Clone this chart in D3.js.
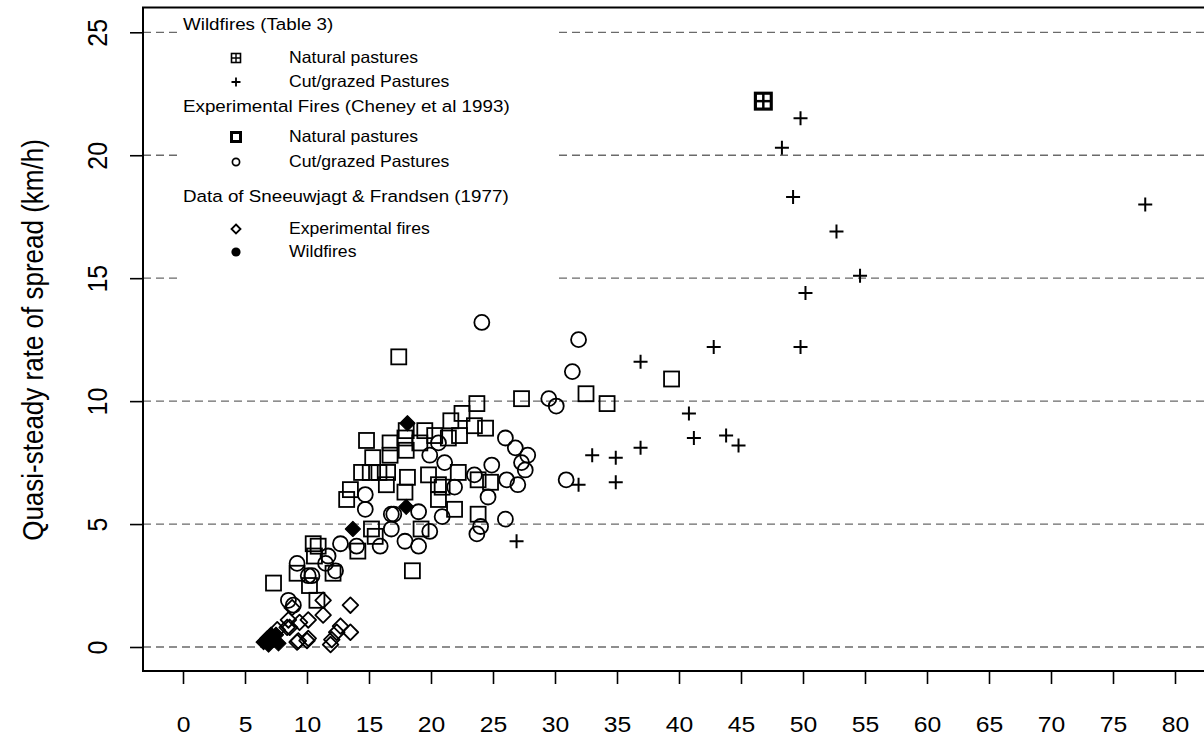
<!DOCTYPE html>
<html><head><meta charset="utf-8">
<script src="https://cdn.jsdelivr.net/npm/d3@7"></script>
<style>
html,body{margin:0;padding:0;background:#fff;}
svg{display:block;font-family:"Liberation Sans",Arial,Helvetica,sans-serif;}
</style></head>
<body>
<svg id="chart" width="1204" height="738"></svg>
<script>
// ---------- data ----------
const xTicks = [0,5,10,15,20,25,30,35,40,45,50,55,60,65,70,75,80];
const yTicks = [0,5,10,15,20,25];
const yTitle = "Quasi-steady rate of spread (km/h)";

// Wildfires (Table 3) – natural pastures
const wildfireNatural = [[46.8,22.2]];
// Wildfires (Table 3) – cut/grazed pastures
const wildfireCut = [[49.8,21.5],[48.3,20.3],[49.2,18.3],[52.7,16.9],[54.6,15.1],[50.2,14.4],
  [42.8,12.2],[49.8,12.2],[36.9,11.6],[40.8,9.5],[41.2,8.5],[43.8,8.6],[44.8,8.2],[36.9,8.1],
  [33.0,7.8],[34.9,7.7],[77.6,18.0],[26.9,4.3],[31.9,6.6],[34.9,6.7]];
// Experimental fires (Cheney et al 1993) – natural pastures
const expNatural = [[17.4,11.8],[39.4,10.9],[32.5,10.3],[34.2,9.9],[27.3,10.1],[7.3,2.6],[18.5,3.1],
  [23.7,9.9],[22.5,9.5],[21.6,9.2],[23.5,9.0],[24.4,8.9],[22.3,8.6],[19.5,8.8],[21.4,8.5],[17.9,8.5],
  [16.7,8.3],[19.1,8.3],[16.7,7.8],[16.5,7.1],[18.1,6.9],[19.8,7.0],[22.2,7.1],[20.9,6.5],[16.4,6.6],
  [23.8,6.8],[24.8,6.7],[20.6,6.0],[21.9,5.6],[23.8,5.4],[19.2,4.8],[17.9,6.3],[14.8,8.4],[18.0,8.8],
  [20.3,8.6],[18.0,8.0],[15.3,7.7],[14.4,7.1],[15.8,7.1],[15.1,7.1],[13.5,6.4],[13.2,6.0],[20.6,6.6],
  [15.2,4.8],[15.5,4.5],[14.1,3.9],[10.5,4.2],[10.9,4.1],[10.6,3.7],[12.1,3.0],[9.2,3.0],[10.2,2.5],
  [10.8,1.9]];
// Experimental fires (Cheney et al 1993) – cut/grazed pastures
const expCut = [[24.1,13.2],[31.9,12.5],[31.4,11.2],[29.5,10.1],[30.1,9.8],[30.9,6.8],
  [26.0,8.5],[26.8,8.1],[27.8,7.8],[27.3,7.5],[27.6,7.2],[27.0,6.6],[26.1,6.8],[24.9,7.4],[23.5,7.0],
  [24.6,6.1],[21.9,6.5],[20.6,8.3],[19.9,7.8],[21.1,7.5],[20.9,5.3],[19.0,5.5],[26.0,5.2],[24.0,4.9],
  [23.7,4.6],[19.9,4.7],[17.0,5.4],[14.7,6.2],[14.7,5.6],[16.8,5.4],[16.8,4.8],[15.9,4.1],[14.0,4.1],
  [12.7,4.2],[11.7,3.7],[11.5,3.4],[12.3,3.1],[9.2,3.4],[10.4,2.9],[8.5,1.9],[8.9,1.7],[19.0,4.1],
  [17.9,4.3],[10.1,2.9]];
// Sneeuwjagt & Frandsen (1977) – experimental fires
const sfExperimental = [[11.3,1.9],[13.5,1.7],[11.3,1.3],[10.1,1.1],[9.4,1.0],[8.5,1.1],[8.6,0.8],
  [12.7,0.85],[12.4,0.6],[13.5,0.6],[12.0,0.3],[11.9,0.1],[9.3,0.25],[10.1,0.35],[7.6,0.7],[9.2,0.2],
  [10.0,0.26],[8.4,0.8],[8.8,1.6]];
// Sneeuwjagt & Frandsen (1977) – wildfires
const sfWildfires = [[18.1,9.1],[18.0,5.7],[13.7,4.8],[6.5,0.2],[6.9,0.1],[7.3,0.3],[7.7,0.15],
  [7.5,0.5],[6.8,0.35],[7.1,0.5]];

// ---------- layout ----------
const svg = d3.select("#chart");
const frameL = 143, frameT = 7.5, frameB = 671, frameR = 1206;
const x = d3.scaleLinear().domain([0,80]).range([183,1175]);
const y = d3.scaleLinear().domain([0,25]).range([647,32.3]);

// gridlines
svg.append("g").selectAll("line").data(yTicks).join("line")
  .attr("x1",frameL).attr("x2",frameR).attr("y1",d=>y(d)).attr("y2",d=>y(d))
  .attr("stroke","#6a6a6a").attr("stroke-width",1.3).attr("stroke-dasharray","8,5");

// legend background (covers gridlines)
svg.append("rect").attr("x",178).attr("y",10).attr("width",379).attr("height",275).attr("fill","#fff");

// y axis
const yAxis = svg.append("g").attr("transform",`translate(${frameL},0)`)
  .call(d3.axisLeft(y).tickValues(yTicks).tickSize(13).tickFormat(d3.format("d")));
yAxis.select(".domain").remove();
yAxis.selectAll("line").attr("stroke","#000").attr("stroke-width",1.6);
yAxis.selectAll("text").attr("x",null).attr("dy",null).attr("fill","#000")
  .attr("font-size",25).attr("text-anchor","middle")
  .attr("transform",`translate(${107-frameL},0) scale(1.12,1) rotate(-90)`);

// x axis
const xAxis = svg.append("g").attr("transform",`translate(0,${frameB})`)
  .call(d3.axisBottom(x).tickValues(xTicks).tickSize(13).tickFormat(d3.format("d")));
xAxis.select(".domain").remove();
xAxis.selectAll("line").attr("stroke","#000").attr("stroke-width",1.6);
xAxis.selectAll("text").attr("y",61.5).attr("dy",null).attr("x",0).attr("fill","#000")
  .attr("font-size",21.5).attr("transform","scale(1.15,1)");

// frame
svg.append("path").attr("d",`M${frameR},${frameT}H${frameL}V${frameB}H${frameR}`)
  .attr("fill","none").attr("stroke","#000").attr("stroke-width",2);

// y title
svg.append("text").attr("transform",`translate(43,340) scale(1.1,1) rotate(-90)`)
  .attr("text-anchor","middle").attr("font-size",26).text(yTitle);

// ---------- marker helpers ----------
const g = svg.append("g");
function squares(data, s, sw){
  g.append("g").selectAll("rect").data(data).join("rect")
   .attr("x",d=>x(d[0])-s/2).attr("y",d=>y(d[1])-s/2).attr("width",s).attr("height",s)
   .attr("fill","none").attr("stroke","#000").attr("stroke-width",sw);
}
function circles(data, r, sw){
  g.append("g").selectAll("circle").data(data).join("circle")
   .attr("cx",d=>x(d[0])).attr("cy",d=>y(d[1])).attr("r",r)
   .attr("fill","none").attr("stroke","#000").attr("stroke-width",sw);
}
function diamonds(data, h, sw, filled){
  g.append("g").selectAll("path").data(data).join("path")
   .attr("d",d=>{const cx=x(d[0]),cy=y(d[1]);return `M${cx},${cy-h}L${cx+h},${cy}L${cx},${cy+h}L${cx-h},${cy}Z`;})
   .attr("fill",filled?"#000":"none").attr("stroke","#000").attr("stroke-width",sw)
   .attr("stroke-linejoin","round");
}
function pluses(data, h, sw){
  g.append("g").selectAll("path").data(data).join("path")
   .attr("d",d=>{const cx=x(d[0]),cy=y(d[1]);return `M${cx-h},${cy}H${cx+h}M${cx},${cy-h}V${cy+h}`;})
   .attr("stroke","#000").attr("stroke-width",sw).attr("fill","none");
}
function gridSquares(data, s){
  const gg = g.append("g").selectAll("g").data(data).join("g")
   .attr("transform",d=>`translate(${x(d[0])},${y(d[1])})`);
  gg.append("rect").attr("x",-s/2).attr("y",-s/2).attr("width",s).attr("height",s).attr("fill","#000");
  const w = s*0.27, gap = s*0.13;
  [[-1,-1],[1,-1],[-1,1],[1,1]].forEach(([a,b])=>{
    gg.append("rect").attr("x",a<0?-gap/2-w:gap/2).attr("y",b<0?-gap/2-w:gap/2)
      .attr("width",w).attr("height",w).attr("fill","#fff");
  });
}

diamonds(sfExperimental, 7.8, 1.8, false);
squares(expNatural, 15, 1.8);
circles(expCut, 7.5, 1.8);
diamonds(sfWildfires, 7.5, 1.2, true);
pluses(wildfireCut, 7, 2);
gridSquares(wildfireNatural, 19);

// ---------- legend ----------
const leg = svg.append("g");
function legText(tx, ty, str, fs){
  leg.append("text").attr("transform",`translate(${tx},${ty}) scale(1.08,1)`)
    .attr("font-size",fs).text(str);
}
const symX = 236, txtX = 289, headFs = 17.4, itemFs = 16.3;
legText(183,30,"Wildfires (Table 3)",headFs);
legText(txtX,63,"Natural pastures",itemFs);
legText(txtX,87,"Cut/grazed Pastures",itemFs);
legText(183,112,"Experimental Fires (Cheney et al 1993)",headFs);
legText(txtX,142,"Natural pastures",itemFs);
legText(txtX,167,"Cut/grazed Pastures",itemFs);
legText(183,202,"Data of Sneeuwjagt & Frandsen (1977)",headFs);
legText(txtX,234,"Experimental fires",itemFs);
legText(txtX,257,"Wildfires",itemFs);
// legend symbols
leg.append("rect").attr("x",symX-4.5).attr("y",58-4.5).attr("width",9).attr("height",9)
  .attr("fill","none").attr("stroke","#000").attr("stroke-width",1.6);
leg.append("path").attr("d",`M${symX-4.5},58H${symX+4.5}M${symX},53.5V62.5`).attr("stroke","#000").attr("stroke-width",1.4);
leg.append("path").attr("d",`M${symX-4.5},82H${symX+4.5}M${symX},77.5V86.5`).attr("stroke","#000").attr("stroke-width",1.8);
leg.append("rect").attr("x",symX-4.5).attr("y",137-4.5).attr("width",9).attr("height",9)
  .attr("fill","none").attr("stroke","#000").attr("stroke-width",3);
leg.append("circle").attr("cx",symX).attr("cy",162).attr("r",3.6)
  .attr("fill","none").attr("stroke","#000").attr("stroke-width",1.7);
leg.append("path").attr("d",`M${symX},224.5L${symX+4.5},229L${symX},233.5L${symX-4.5},229Z`)
  .attr("fill","none").attr("stroke","#000").attr("stroke-width",1.8);
leg.append("circle").attr("cx",symX).attr("cy",252).attr("r",4.6).attr("fill","#000");
</script>
</body></html>
